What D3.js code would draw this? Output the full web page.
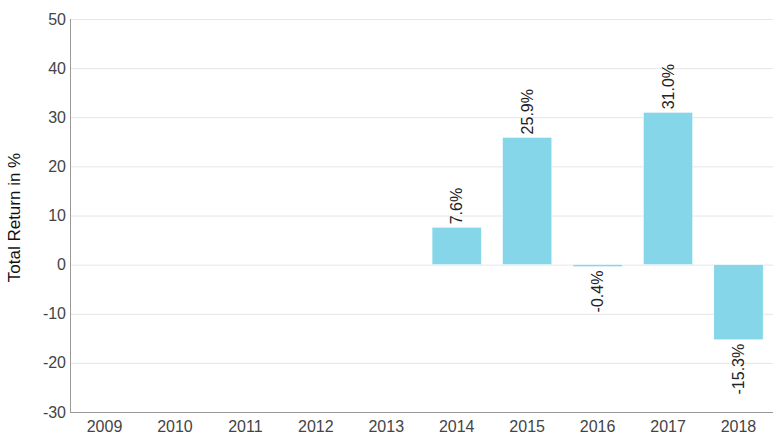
<!DOCTYPE html>
<html>
<head>
<meta charset="utf-8">
<script src="https://cdn.jsdelivr.net/npm/d3@7"></script>
<style>
  body { margin: 0; background: #fff; }
  svg { display: block; font-family: "Liberation Sans", Arial, sans-serif; }
</style>
</head>
<body>
<div id="showBox"></div>
<script>
const years = ["2009", "2010", "2011", "2012", "2013", "2014", "2015", "2016", "2017", "2018"]
const returns = [null, null, null, null, null, 7.6, 25.9, -0.4, 31.0, -15.3]
const yTicks = [-30, -20, -10, 0, 10, 20, 30, 40, 50]

const width = 773, height = 434
const margin = {top: 19, right: 0, bottom: 22, left: 70}

const svg = d3.select("#showBox").append("svg")
    .attr("width", width)
    .attr("height", height)

const x = d3.scaleBand()
    .domain(years)
    .range([margin.left, width - margin.right])
    .paddingInner(0.3)
    .paddingOuter(0.14)

const y = d3.scaleLinear()
    .domain([-30, 50])
    .range([height - margin.bottom, margin.top])

// grid
svg.append("g")
    .selectAll("line")
    .data(yTicks)
    .join("line")
    .attr("x1", margin.left)
    .attr("x2", width)
    .attr("y1", d => y(d) + 0.5)
    .attr("y2", d => y(d) + 0.5)
    .attr("stroke", "#e6e6e6")

// y tick labels
svg.append("g")
    .attr("font-size", 16)
    .attr("fill", "#444")
    .attr("text-anchor", "end")
    .selectAll("text")
    .data(yTicks)
    .join("text")
    .attr("x", margin.left - 4)
    .attr("y", d => y(d))
    .attr("dy", "0.35em")
    .text(d => d)

// axis lines
svg.append("line")
    .attr("x1", margin.left + 0.5).attr("x2", margin.left + 0.5)
    .attr("y1", margin.top).attr("y2", height - margin.bottom)
    .attr("stroke", "#999")
svg.append("line")
    .attr("x1", margin.left).attr("x2", width)
    .attr("y1", height - margin.bottom + 0.5).attr("y2", height - margin.bottom + 0.5)
    .attr("stroke", "#999")

// x labels
svg.append("g")
    .attr("font-size", 16)
    .attr("fill", "#444")
    .attr("text-anchor", "middle")
    .selectAll("text")
    .data(years)
    .join("text")
    .attr("x", d => x(d) + x.bandwidth() / 2)
    .attr("y", height - margin.bottom + 20)
    .text(d => d)

const data = years.map((yr, i) => ({year: yr, value: returns[i]})).filter(d => d.value != null)

// bars
svg.append("g")
    .selectAll("rect")
    .data(data)
    .join("rect")
    .attr("x", d => x(d.year))
    .attr("width", x.bandwidth())
    .attr("y", d => y(Math.max(0, d.value)))
    .attr("height", d => Math.max(1.5, Math.abs(y(d.value) - y(0))))
    .attr("fill", "#84d6e8")
    .attr("stroke", "#fff")
    .attr("stroke-width", 0.5)

// value labels
svg.append("g")
    .attr("font-size", 16)
    .attr("fill", "#222")
    .selectAll("text")
    .data(data)
    .join("text")
    .attr("transform", d => {
        const cx = x(d.year) + x.bandwidth() / 2
        const cy = d.value >= 0 ? y(d.value) - 3 : y(d.value) + 4
        return `translate(${cx},${cy}) rotate(-90)`
    })
    .attr("dy", "0.35em")
    .attr("text-anchor", d => d.value >= 0 ? "start" : "end")
    .text(d => d.value.toFixed(1) + "%")

// y title
svg.append("text")
    .attr("transform", `translate(14,${(margin.top + height - margin.bottom) / 2 + 2}) rotate(-90)`)
    .attr("text-anchor", "middle")
    .attr("dy", "0.35em")
    .attr("font-size", 17)
    .attr("fill", "#111")
    .text("Total Return in %")
</script>
</body>
</html>
